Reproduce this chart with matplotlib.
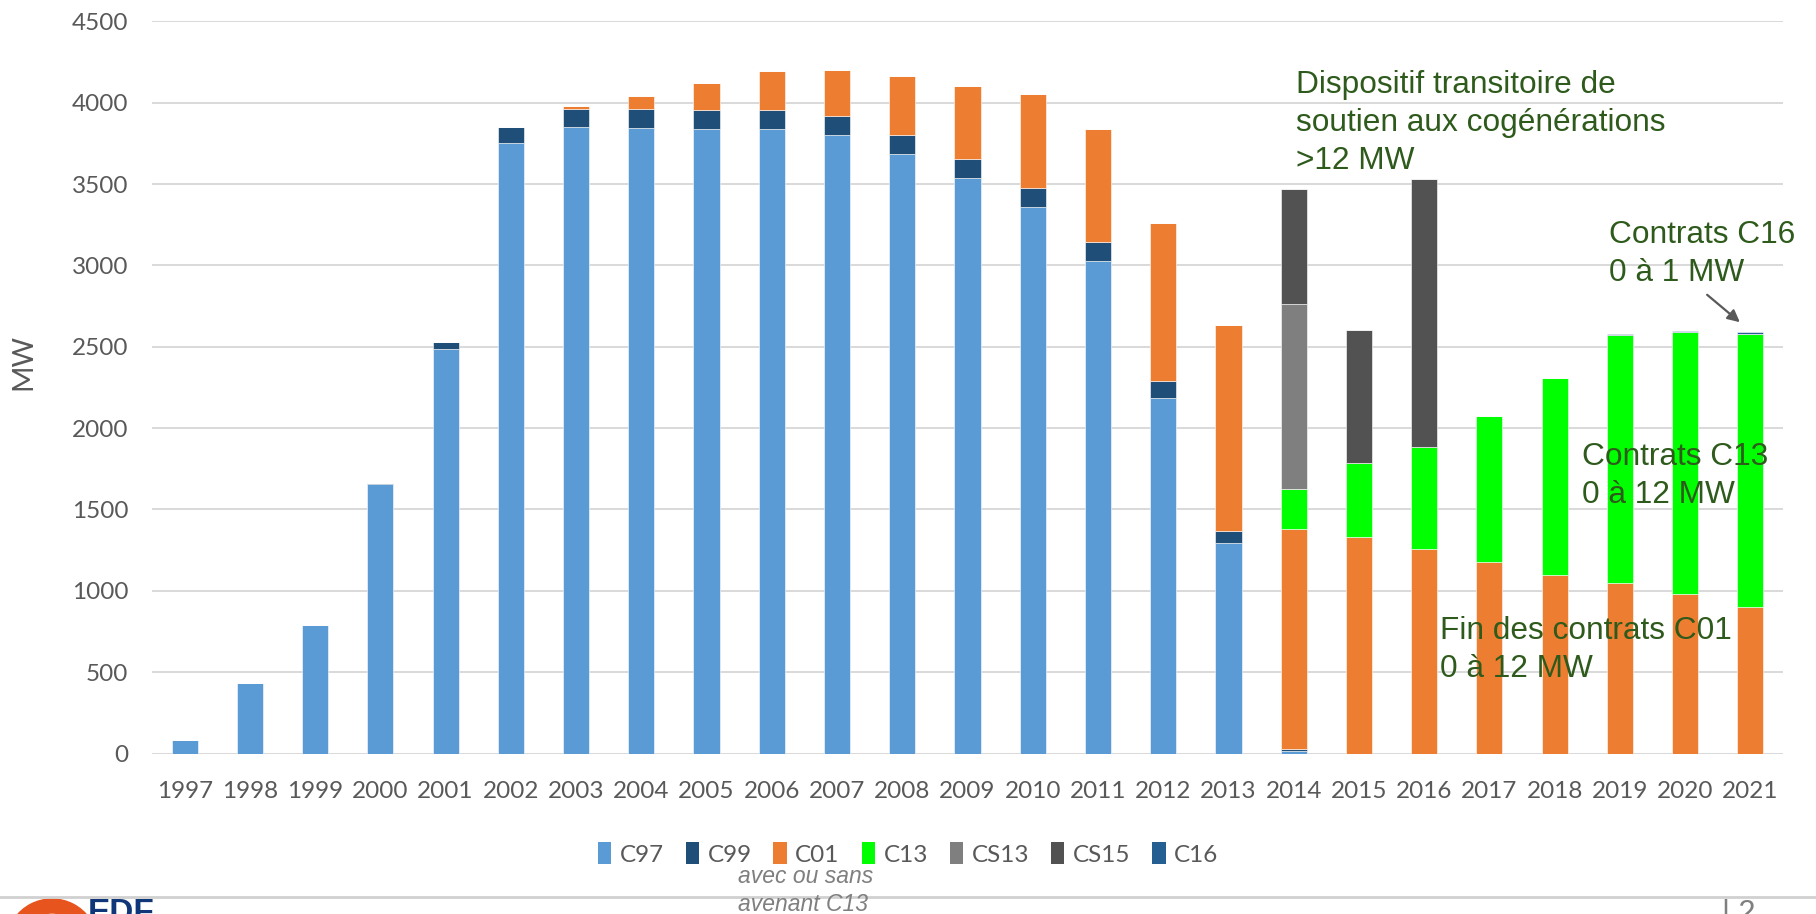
import matplotlib
matplotlib.use("Agg")
import matplotlib.pyplot as plt
import numpy as np
from matplotlib.patches import Patch, Wedge, FancyArrowPatch
from matplotlib.lines import Line2D
from matplotlib.transforms import IdentityTransform

# ---------------- data ----------------
years = [str(y) for y in range(1997, 2022)]
c97 = [82, 432, 787, 1657, 2488, 3750, 3851, 3843, 3841, 3839, 3802, 3683, 3536,
       3359, 3028, 2182, 1293, 15, 0, 0, 0, 0, 0, 0, 0]
c99 = [0, 0, 0, 7, 38, 100, 113, 118, 116, 116, 116, 117, 119,
       114, 118, 106, 72, 15, 0, 0, 0, 0, 0, 0, 0]
c01 = [0, 0, 0, 0, 0, 3, 16, 78, 161, 241, 284, 361, 449,
       578, 695, 972, 1267, 1349, 1328, 1256, 1174, 1094, 1047, 978, 898]
c13 = [0] * 17 + [246, 456, 629, 903, 1212, 1527, 1614, 1679]
cs13 = [0] * 17 + [1140, 0, 0, 0, 0, 0, 0, 0]
cs15 = [0] * 17 + [702, 817, 1644, 0, 0, 0, 0, 0]
c16 = [0] * 22 + [3, 5, 12]

series_names = ["C97", "C99", "C01", "C13", "CS13", "CS15", "C16"]
series_vals = [c97, c99, c01, c13, cs13, cs15, c16]
colors = ["#5B9BD5", "#1F4E79", "#ED7D31", "#00FF00", "#7F7F7F", "#525252", "#255E91"]
yticks = [0, 500, 1000, 1500, 2000, 2500, 3000, 3500, 4000, 4500]

W, H = 1816, 914
fig = plt.figure(figsize=(W / 100, H / 100), dpi=100)
ax = fig.add_axes([152 / W, 1 - 753.5 / H, (1783 - 152) / W, (753.5 - 21.3) / H])

TICKFONT = "Lato"
GRAY = "#595959"
GREEN = "#2E5A1C"

x = np.arange(len(years))
bottom = np.zeros(len(years))
for name, vals, col in zip(series_names, series_vals, colors):
    v = np.array(vals, dtype=float)
    ax.bar(x, v, 0.40, bottom=bottom, color=col, edgecolor="white",
           linewidth=0.4, label=name, zorder=3)
    bottom += v

ax.set_xlim(-0.5, len(years) - 0.5)
ax.set_ylim(0, 4500)
ax.set_yticks(yticks)
ax.set_yticklabels([str(t) for t in yticks])
ax.set_xticks(x)
ax.set_xticklabels(years)
ax.grid(axis="y", color="#D9D9D9", linewidth=1.4, zorder=0)
ax.set_axisbelow(True)
for s in ax.spines.values():
    s.set_visible(False)
ax.tick_params(axis="both", length=0, colors=GRAY, labelsize=17.5)
ax.tick_params(axis="y", pad=17)
ax.tick_params(axis="x", pad=20)
for lab in ax.get_xticklabels() + ax.get_yticklabels():
    lab.set_fontfamily(TICKFONT)

fig.text(23 / W, 1 - 362 / H, "MW", rotation=90, ha="center", va="center",
         color=GRAY, fontsize=20.5, fontfamily=TICKFONT)

# legend
handles = [Patch(facecolor=c, edgecolor="none") for c in colors]
leg = fig.legend(handles, series_names, loc="center", ncol=7,
                 bbox_to_anchor=(908 / W, 1 - 854 / H), frameon=False,
                 handlelength=0.55, handleheight=1.0, handletextpad=0.35,
                 columnspacing=0.9, prop={"family": TICKFONT, "size": 17.5})
for t in leg.get_texts():
    t.set_color(GRAY)


def ptext(px, py, s, **kw):
    fig.text(px / W, 1 - py / H, s, **kw)


ann = dict(color=GREEN, fontsize=22.8, fontfamily="Liberation Sans", va="baseline", ha="left")
ptext(1296, 93, "Dispositif transitoire de", **ann)
ptext(1296, 131, "soutien aux cogénérations", **ann)
ptext(1296, 169, ">12 MW", **ann)
ptext(1609, 243, "Contrats C16", **ann)
ptext(1609, 281, "0 à 1 MW", **ann)
ptext(1582, 465, "Contrats C13", **ann)
ptext(1582, 503, "0 à 12 MW", **ann)
ptext(1440, 639, "Fin des contrats C01", **ann)
ptext(1440, 677, "0 à 12 MW", **ann)

# arrow toward C16 on 2021
fig.add_artist(FancyArrowPatch(
    (1705 / W, 1 - 293 / H), (1742 / W, 1 - 324 / H),
    transform=fig.transFigure, arrowstyle="-|>", mutation_scale=18,
    color="#595959", linewidth=1.6))

# partially visible logo (pixel coordinates, origin bottom-left)
fig.add_artist(Wedge((52, H - 945), 46, 35, 145, width=14,
                     transform=IdentityTransform(), color="#E8541E"))
ptext(88, 922, "EDF", color="#10367A", fontsize=24, fontweight="bold",
      fontfamily="Liberation Sans", va="baseline", ha="left")

# footer
fig.add_artist(Line2D([0, 1], [1 - 897 / H, 1 - 897 / H],
                      transform=fig.transFigure, color="#D0D0D0", linewidth=2))
foot = dict(color="#7F7F7F", fontsize=16.5, fontfamily="Liberation Sans",
            style="italic", va="baseline", ha="left")
ptext(738, 883, "avec ou sans", **foot)
ptext(738, 911, "avenant C13", **foot)
ptext(1722, 922, "| 2", color="#7F7F7F", fontsize=22, fontfamily="Liberation Sans",
      va="baseline", ha="left")

fig.savefig("out.png", dpi=100)
